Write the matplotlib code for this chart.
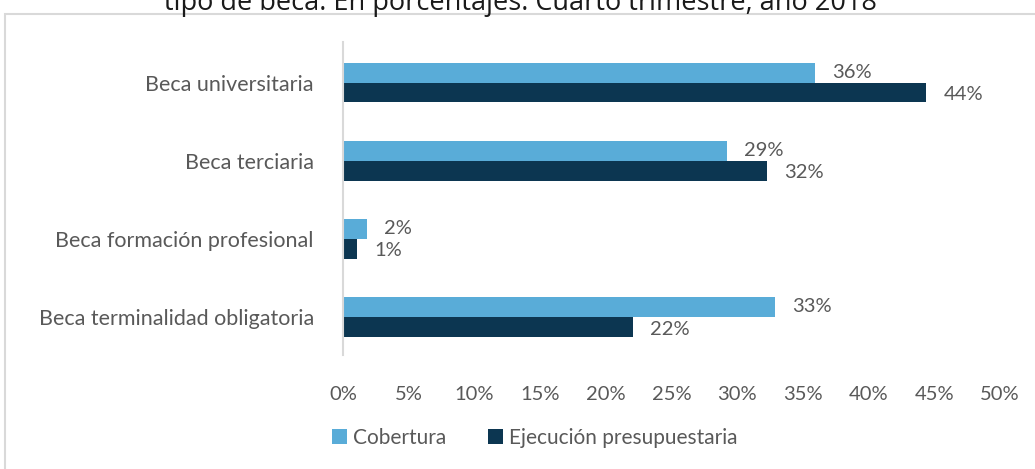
import matplotlib
matplotlib.use("Agg")
import matplotlib.pyplot as plt
import numpy as np
from matplotlib.patches import Rectangle

# Data (percent)
categories = ["Beca universitaria", "Beca terciaria",
              "Beca formación profesional", "Beca terminalidad obligatoria"]
cobertura = [35.9, 29.2, 1.8, 32.9]
ejecucion = [44.4, 32.3, 1.1, 22.1]
cob_labels = ["36%", "29%", "2%", "33%"]
eje_labels = ["44%", "32%", "1%", "22%"]
xticks = [0, 5, 10, 15, 20, 25, 30, 35, 40, 45, 50]

COL_COB = "#59acd8"
COL_EJE = "#0c3651"
TXT = "#595959"

plt.rcParams["font.family"] = ["Lato", "DejaVu Sans"]

fig = plt.figure(figsize=(10.35, 4.69), dpi=100)

# light frame of the original chart area
fig.patches.append(Rectangle((5 / 1035, -0.05), 1.2, 1 - 14 / 469 + 0.05,
                             transform=fig.transFigure, fill=False,
                             edgecolor="#d9d9d9", linewidth=1.5))

# title (cut off at top in the reference)
fig.text(0.503, 1 - 10 / 469, "tipo de beca. En porcentajes. Cuarto trimestre, año 2018",
         ha="center", va="baseline", fontsize=19.5, color="#1a1a1a",
         family=["Open Sans", "DejaVu Sans"])

ax = fig.add_axes([343 / 1035, 1 - 355 / 469, (1000 - 343) / 1035, (355 - 42) / 469])

y = np.arange(len(categories))
h = 0.255
ax.barh(y - h / 2, cobertura, height=h, color=COL_COB, label="Cobertura")
ax.barh(y + h / 2, ejecucion, height=h, color=COL_EJE, label="Ejecución presupuestaria")

for i in range(len(categories)):
    ax.text(cobertura[i] + 1.3, y[i] - h / 2, cob_labels[i], va="center", ha="left",
            fontsize=14.5, color=TXT)
    ax.text(ejecucion[i] + 1.3, y[i] + h / 2 + 0.03, eje_labels[i], va="center", ha="left",
            fontsize=14.5, color=TXT)

ax.set_ylim(3.49, -0.52)
ax.set_xlim(0, 50)
ax.set_yticks(y)
ax.set_yticklabels(categories, fontsize=15.5, color=TXT)
ax.set_xticks(xticks)
ax.set_xticklabels([f"{t}%" for t in xticks], fontsize=14.5, color=TXT)
ax.tick_params(axis="y", length=0, pad=21)
ax.tick_params(axis="x", length=0, pad=22)

for s in ["top", "right", "bottom"]:
    ax.spines[s].set_visible(False)
ax.spines["left"].set_color("#d9d9d9")
ax.spines["left"].set_linewidth(1.5)

handles, labels = ax.get_legend_handles_labels()
fig.legend(handles, labels, loc="center", bbox_to_anchor=(535 / 1035, 1 - 438 / 469),
           ncol=2, frameon=False, fontsize=15, labelcolor=TXT,
           handlelength=0.7, handleheight=0.7, handletextpad=0.3, columnspacing=2.0)

fig.savefig("out.png", dpi=100)
